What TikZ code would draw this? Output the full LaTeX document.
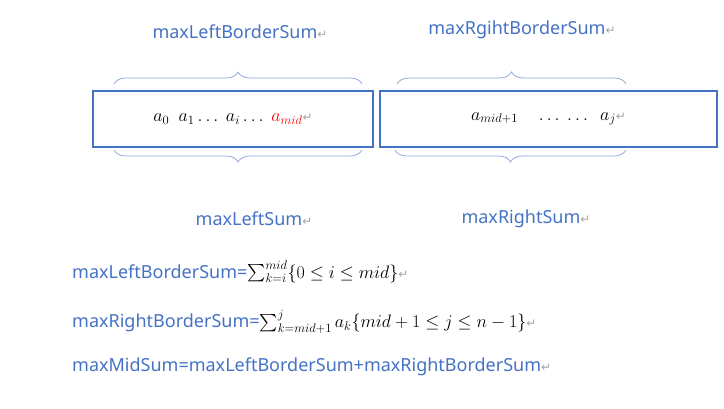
\RequirePackage{fix-cm}
\documentclass[tikz,border=0pt]{standalone}
\usepackage{amsmath}
\usepackage{fontspec}
\setmainfont{Noto Sans}
\newfontfamily\symfont{DejaVu Sans}
\usetikzlibrary{decorations.pathreplacing}
\definecolor{wordblue}{HTML}{4472C4}
\definecolor{bracecol}{HTML}{8FAADC}
\newcommand{\ret}{{\symfont\color{gray!70}\fontsize{12}{12}\selectfont ↵}}
\tikzset{
  cell/.style={draw=wordblue, line width=1.5pt, minimum height=56pt, inner sep=0pt},
  lbl/.style={text=wordblue, font=\fontsize{18}{21}\selectfont, inner sep=0pt},
  brc/.style={draw=bracecol, thick, decorate, decoration={brace, amplitude=12pt}},
}
\begin{document}
\begin{tikzpicture}[x=1pt,y=-1pt]
  \useasboundingbox (0,0) rectangle (724,409);
  % the two halves
  \node[cell, minimum width=280pt] (left) at (233,119)
    {\fontsize{18}{21}\selectfont $a_0\ \ a_1 \ldots\ a_i \ldots\ \textcolor{red}{a_{mid}}$\ret};
  \node[cell, minimum width=337pt] (right) at (548.5,119)
    {\fontsize{18}{21}\selectfont $a_{mid+1}\quad \ldots\ \ldots\ \ a_j$\ret};
  % braces
  \coordinate (tl1) at (114,84); \coordinate (tl2) at (362,84);
  \coordinate (tr1) at (397,84); \coordinate (tr2) at (626,84);
  \coordinate (bl1) at (114,150); \coordinate (bl2) at (362,150);
  \coordinate (br1) at (395,150); \coordinate (br2) at (626,150);
  \draw[brc] (tl1) -- (tl2);
  \draw[brc] (tr1) -- (tr2);
  \draw[brc] (bl2) -- (bl1);
  \draw[brc] (br2) -- (br1);
  % labels
  \node[lbl] (tlsum) at (240,32) {maxLeftBorderSum\ret};
  \node[lbl] (trsum) at (522,30) {maxRgihtBorderSum\ret};
  \node[lbl] (blsum) at (254,219) {maxLeftSum\ret};
  \node[lbl] (brsum) at (526,219) {maxRightSum\ret};
  % formulas
  \node[lbl, anchor=west] (f1) at (72,272)
    {maxLeftBorderSum=\textcolor{black}{$\sum_{k=i}^{mid}\{0\le i\le mid\}$}\ret};
  \node[lbl, anchor=west] (f2) at (72,322)
    {maxRightBorderSum=\textcolor{black}{$\sum_{k=mid+1}^{j} a_k\{mid+1\le j\le n-1\}$}\ret};
  \node[lbl, anchor=west] (f3) at (72,367)
    {maxMidSum=maxLeftBorderSum+maxRightBorderSum\ret};
\end{tikzpicture}
\end{document}
